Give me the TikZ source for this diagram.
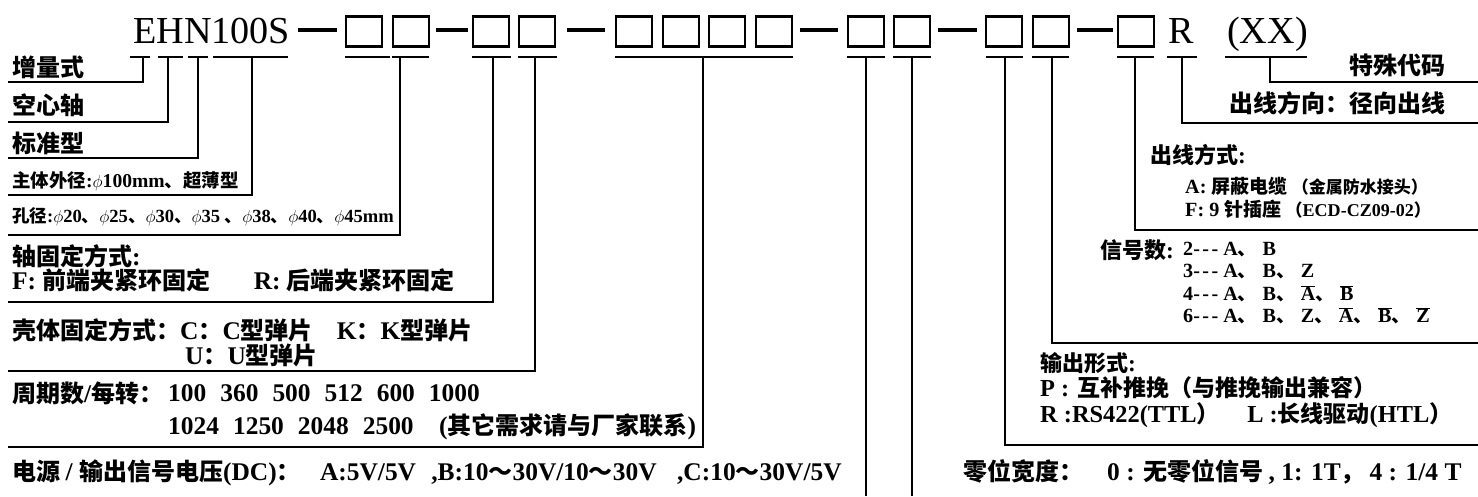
\documentclass[tikz,border=0pt]{standalone}
\usepackage{fontspec}
\setmainfont{Liberation Serif}[Scale=1.06]
\newfontfamily\zhfont{Noto Sans CJK SC}

% Chinese characters are set in the CJK font, the rest in the serif
\XeTeXinterchartokenstate=1
\newcount\zhcnt
\zhcnt="21
\loop \XeTeXcharclass\zhcnt=0 \advance\zhcnt by 1 \ifnum\zhcnt<"7F \repeat
\zhcnt="4E00
\loop \XeTeXcharclass\zhcnt=1 \advance\zhcnt by 1 \ifnum\zhcnt<"A000 \repeat
\XeTeXcharclass"3001=3 \XeTeXcharclass"FF1A=3 \XeTeXcharclass"FF09=3
\XeTeXcharclass"FF0C=3 \XeTeXcharclass"FF08=2 \XeTeXcharclass"FF5E=1
\XeTeXinterchartoks 0 1 = {\zhfont}
\XeTeXinterchartoks 0 2 = {\zhfont}
\XeTeXinterchartoks 0 3 = {\zhfont}
\XeTeXinterchartoks 4095 1 = {\zhfont}
\XeTeXinterchartoks 4095 2 = {\zhfont}
\XeTeXinterchartoks 4095 3 = {\zhfont}
\XeTeXinterchartoks 1 0 = {\rmfamily}
\XeTeXinterchartoks 2 0 = {\rmfamily}
\XeTeXinterchartoks 3 0 = {\rmfamily}
\XeTeXinterchartoks 4095 0 = {\rmfamily}

\newcommand\fnttitle{\fontsize{36}{40}\selectfont}
\newcommand\fntmain{\fontsize{24}{28}\selectfont\bfseries}
\newcommand\fntsmall{\fontsize{18.5}{21}\selectfont\bfseries}
\newcommand\fntblk{\fontsize{22}{24}\selectfont\bfseries}
\newcommand\fntrow{\fontsize{19}{21}\selectfont\bfseries}
\newcommand\fntout{\fontsize{23}{26}\selectfont\bfseries}
\newcommand\fnttiny{\fontsize{17}{19}\selectfont\bfseries}
\newcommand\gp{\hspace{0.55em}}
\newcommand\dsh{-\kern2.5pt-\kern2.5pt-}
\newcommand\sep{、\hspace{0.3em}}
\newcommand\ovl[1]{$\overline{\hbox{#1}}$}

\begin{document}
\begin{tikzpicture}[x=1pt, y=-1pt,
    box/.style={draw, line width=2.6pt, minimum width=36pt, minimum height=30.5pt, inner sep=0pt},
    ul/.style={line width=2.6pt},
    dashline/.style={line width=4pt},
    lead/.style={line width=1.3pt},
    lbl/.style={anchor=west, inner sep=0pt, font=\fntmain},
    lblr/.style={anchor=east, inner sep=0pt, font=\fntmain},
    lblsmall/.style={lbl, font=\fntsmall},
    lblblk/.style={lbl, font=\fntblk},
    lblrow/.style={lbl, font=\fntrow},
    ttlpart/.style={anchor=base west, inner sep=0pt, font=\fnttitle}
]
\fill[white] (0,0) rectangle (1478,496);
\useasboundingbox (0,0) rectangle (1478,496);

% --- model code ---
\node[ttlpart] (ttl) at (133,43) {EHN100S};
\node[ttlpart] (ttr) at (1168,43) {R};
\node[ttlpart] (ttx) at (1227,43) {(XX)};

\foreach \x [count=\i] in {364,411,491,537,634,681,727,774,866,912,1004,1051,1136}
  \node[box] (b\i) at (\x,31.5) {};

\foreach \p/\q in {298/337,436/468,567/605,800/838,938/977,1077/1113}
  \draw[dashline] (\p,30) -- (\q,30);

% --- underlines ---
\foreach \p/\q in {130/150,158/183,188/208,213/288,345/390,392/429,472/511,518/557,615/793,
    847/885,893/931,986/1023,1032/1069,1117/1154,1167/1197,1225/1307}
  \draw[ul] (\p,57) -- (\q,57);

% --- leads to the left ---
\foreach \n/\x/\y in {a/143/82,b/168/122,c/198/158,d/252/195,e/400/235,f/493/302,g/535/371,h/703/447} {
  \coordinate (d\n) at (\x,57);
  \coordinate (e\n) at (8,\y);
  \draw[lead] (d\n) |- (e\n);
}

% --- leads to the right ---
\foreach \n/\x/\y in {k/1270/82,l/1182/123,m/1135/230,n/1052/343,o/1005/445} {
  \coordinate (d\n) at (\x,57);
  \coordinate (e\n) at (1478,\y);
  \draw[lead] (d\n) |- (e\n);
}

% --- leads down ---
\foreach \n/\x in {p/866,q/912} {
  \coordinate (d\n) at (\x,57);
  \coordinate (e\n) at (\x,496);
  \draw[lead] (d\n) -- (e\n);
}

% --- left labels ---
\node[lbl] (inc) at (12,67) {增量式};
\node[lbl] (hol) at (12,105) {空心轴};
\node[lbl] (std) at (12,143) {标准型};
\node[lblsmall] (dia) at (12,181) {主体外径:$\phi$100mm、超薄型};
\node[lbl, font=\fontsize{17.5}{20}\selectfont\bfseries] (bore) at (12,217) {孔径:$\phi$20、$\phi$25、$\phi$30、$\phi$35 、$\phi$38、$\phi$40、$\phi$45mm};
\node[lbl] (shft) at (12,256) {轴固定方式:};
\node[lbl] (shftv) at (12,280) {F: 前端夹紧环固定\hspace{1.8em}R: 后端夹紧环固定};
\node[lbl] (hous) at (12,330) {壳体固定方式：C：C型弹片\hspace{1em}K：K型弹片};
\node[lbl] (housv) at (185,355) {U：U型弹片};
\node[lbl] (ppr) at (12,393) {周期数/每转：};
\node[lbl] (pprv) at (168,393) {100\gp 360\gp 500\gp 512\gp 600\gp 1000};
\node[lbl] (pprw) at (168,427) {1024\gp 1250\gp 2048\gp 2500\hspace{1em}(其它需求请与厂家联系)};
\node[lbl] (volt) at (12,473) {电源 / 输出信号电压(DC)：\hspace{0.8em}A:5V/5V\hspace{0.6em},B:10～30V/10～30V\hspace{0.8em},C:10～30V/5V};

% --- right labels ---
\node[lblr] (spec) at (1446,65) {特殊代码};
\node[lblr] (dir) at (1446,103) {出线方向：径向出线};
\node[lblblk] (cab) at (1150,155) {出线方式:};
\node[lblrow] (caba) at (1185,186) {A: 屏蔽电缆 {\fnttiny （金属防水接头）}};
\node[lblrow] (cabf) at (1185,209) {F: 9 针插座 {\fnttiny （ECD-CZ09-02）}};
\node[lblblk] (sig) at (1100,250) {信号数:};
\node[lblrow] (sig2) at (1183,250) {2\dsh\ A\sep B};
\node[lblrow] (sig3) at (1183,272) {3\dsh\ A\sep B\sep Z};
\node[lblrow] (sig4) at (1183,294) {4\dsh\ A\sep B\sep \ovl{A}\sep \ovl{B}};
\node[lblrow] (sig6) at (1183,316) {6\dsh\ A\sep B\sep Z\sep \ovl{A}\sep \ovl{B}\sep \ovl{Z}};
\node[lblblk] (out) at (1040,363) {输出形式:};
\node[lbl, font=\fntout] (outp) at (1040,388) {P : 互补推挽（与推挽输出兼容）};
\node[lbl, font=\fntout] (outr) at (1040,415) {R :RS422(TTL）\hspace{1.2em}L :长线驱动(HTL）};
\node[lbl] (zero) at (963,472) {零位宽度：\hspace{1em}0 : 无零位信号 , 1: 1T，\hspace{0.2em}4 : 1/4 T};

\end{tikzpicture}
\end{document}
